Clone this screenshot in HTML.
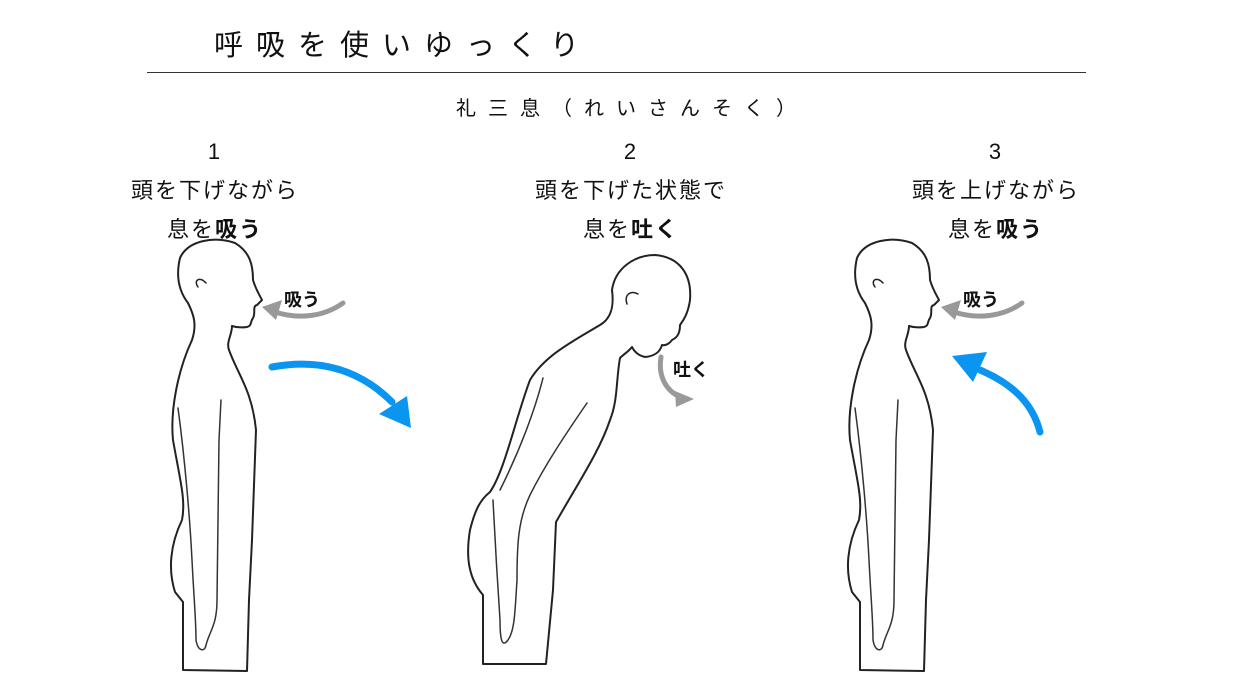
<!DOCTYPE html>
<html><head><meta charset="utf-8">
<style>
body{margin:0;background:#fff;width:1236px;height:692px;overflow:hidden;position:relative;font-family:"Liberation Sans","Noto Sans CJK JP",sans-serif;color:#111}
.t{position:absolute;white-space:nowrap}
.c{position:absolute;text-align:center;width:300px;font-size:22px;line-height:39px;letter-spacing:2px}
b{font-weight:bold}
</style></head><body>
<div class="t" style="left:214px;top:22px;font-size:29px;letter-spacing:13px">呼吸を使いゆっくり</div>
<div style="position:absolute;left:147px;top:72px;width:939px;height:1px;background:#333"></div>
<div class="t" style="left:456px;top:92px;font-size:20px;letter-spacing:12px">礼三息（れいさんそく）</div>
<div class="c" style="left:65px;top:132px">1<br>頭を下げながら<br>息を<b>吸う</b></div>
<div class="c" style="left:481px;top:132px">2<br>頭を下げた状態で<br>息を<b>吐く</b></div>
<div class="c" style="left:846px;top:132px">3<br>頭を上げながら<br>息を<b>吸う</b></div>
<svg width="1236" height="692" style="position:absolute;left:0;top:0" fill="none" stroke="#222" stroke-width="2" stroke-linejoin="round" stroke-linecap="round">
<defs>
<g id="std">
<path d="M183,670 L183,602 L175,592 C168,570 170,545 182,520 C186,500 180,480 173,440 C170,410 178,370 192,340 C197,325 194,315 188,303 C178,290 176,275 180,258 C188,240 215,236 235,243 C250,252 253,265 253,280 C256,290 260,296 262,300 L257,305 C252,306 256,313 253,318 C250,322 252,326 247,327 C240,328 235,327 232,326 C232,335 226,342 229,350 C238,375 252,390 256,430 L252,540 L249,600 L247,671 Z"/>
<path d="M198,287 C193,280 200,276 206,283" stroke-width="1.5"/>
<path d="M178,408 C185,460 190,520 192,560 C194,600 196,620 196,640 C198,652 205,652 206,645 C210,630 217,625 217,600 L219,440 L221,400" stroke="#333" stroke-width="1.5"/>
</g>
</defs>
<use href="#std"/>
<use href="#std" transform="translate(677,0)"/>
<path d="M483,664 L483,595 C470,580 465,560 470,530 C475,510 480,500 490,492 C505,470 515,420 530,380 C545,355 575,340 600,325 C612,318 614,305 612,290 C615,268 635,255 655,255 C680,257 692,275 690,300 C688,315 682,322 680,325 C680,335 676,338 672,340 C670,343 666,346 662,345 C660,352 655,356 645,357 C640,356 635,353 632,347 C628,352 624,354 620,358 C616,380 618,400 610,420 C600,450 580,480 556,522 L553,590 L546,664 Z"/>
<path d="M627,304 C624,295 630,290 638,294" stroke-width="1.5"/>
<path d="M543,378 C535,410 520,450 500,490" stroke="#333" stroke-width="1.5"/>
<path d="M587,403 C565,435 545,465 530,495 C518,520 517,545 517,580 C515,610 515,630 508,640 C502,648 500,640 500,620 C498,590 496,560 493,500" stroke="#333" stroke-width="1.5"/>
<g stroke="#999" stroke-width="5" fill="none">
<path d="M343,303 C325,316 300,320 275,312"/>
<path d="M1022,303 C1004,316 979,320 954,312"/>
<path d="M661,357 C658,375 665,390 680,397"/>
</g>
<g fill="#999" stroke="none">
<polygon points="262,307 282,300 276,320"/>
<polygon points="941,307 961,300 955,320"/>
<polygon points="694,399 675,391 676,407"/>
</g>
<path d="M272,367 C320,358 360,370 392,402" stroke="#0a96f0" stroke-width="7"/>
<polygon points="411,428 379,414 407,396" fill="#0a96f0" stroke="none"/>
<path d="M1040,432 C1033,405 1015,385 980,370" stroke="#0a96f0" stroke-width="7"/>
<polygon points="952,356 987,352 973,382" fill="#0a96f0" stroke="none"/>
</svg>
<div class="t" style="left:284px;top:286px;font-size:18px;font-weight:bold">吸う</div>
<div class="t" style="left:963px;top:286px;font-size:18px;font-weight:bold">吸う</div>
<div class="t" style="left:673px;top:356px;font-size:18px;font-weight:bold">吐く</div>
</body></html>
